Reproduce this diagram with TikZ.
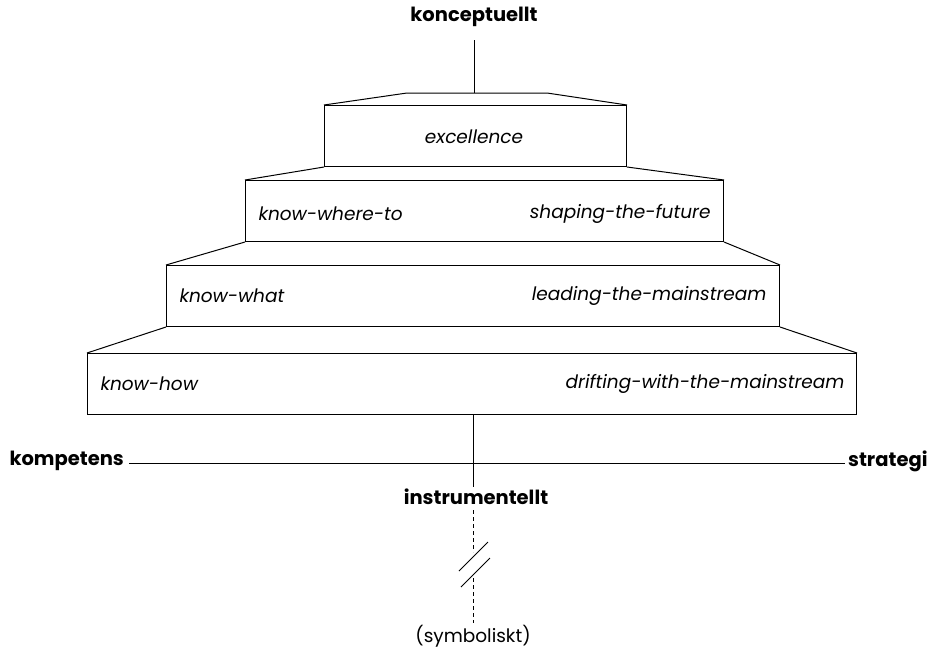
\documentclass[tikz,border=0pt]{standalone}
\usepackage{fontspec}
\setmainfont{Poppins}
\begin{document}
\begin{tikzpicture}[x=1pt,y=-1pt,
  line width=1pt,
  box/.style={draw, line width=1pt, anchor=north west, inner sep=0pt},
  lbl/.style={font=\fontsize{18.5}{20}\selectfont\itshape, inner sep=0pt},
  head/.style={font=\fontsize{19.5}{21}\selectfont\bfseries, inner sep=0pt},
  sym/.style={font=\fontsize{18.5}{20}\selectfont, inner sep=1pt}]
\useasboundingbox (0,0) rectangle (930,651);
% boxes
\node[box, minimum width=302pt, minimum height=61pt] (b1) at (324,105) {};
\node[box, minimum width=478pt, minimum height=61pt] (b2) at (245,180) {};
\node[box, minimum width=613pt, minimum height=61pt] (b3) at (166,265) {};
\node[box, minimum width=769pt, minimum height=61pt] (b4) at (87,353) {};
% trapezoid tops
\coordinate (t1l) at (407,93);
\coordinate (t1r) at (547,93);
\coordinate (t1m) at (474,93);
\draw (b1.north west) -- (t1l) -- (t1r) -- (b1.north east);
\draw (b2.north west) -- (b1.south west);
\draw (b2.north east) -- (b1.south east);
\draw (b3.north west) -- (b2.south west);
\draw (b3.north east) -- (b2.south east);
\draw (b4.north west) -- (b3.south west);
\draw (b4.north east) -- (b3.south east);
% labels in boxes
\node[lbl] (exc) at (474,137) {excellence};
\node[lbl, anchor=west] (kwt) at (258,214) {know-where-to};
\node[lbl, anchor=east] (stf) at (711,214) {shaping-the-future};
\node[lbl, anchor=west] (kwh) at (179,296) {know-what};
\node[lbl, anchor=east] (ltm) at (767,296) {leading-the-mainstream};
\node[lbl, anchor=west] (kh) at (100,384) {know-how};
\node[lbl, anchor=east] (dwm) at (845,384) {drifting-with-the-mainstream};
% axis labels
\node[head] (konc) at (474,17) {konceptuellt};
\node[head, anchor=west] (komp) at (9,461) {kompetens};
\node[head, anchor=east] (strat) at (928,461) {strategi};
\node[head] (instr) at (476,497) {instrumentellt};
\node[sym] (symb) at (473,636) {(symboliskt)};
% connectors
\draw (474,40) -- (t1m);
\draw (473,414) -- (473,487);
\coordinate (hl) at ([xshift=5pt]komp.east |- 0,463);
\coordinate (hr) at ([xshift=-3pt]strat.west |- 0,463);
\draw (hl) -- (hr);
\coordinate (brk1) at (473,552);
\coordinate (brk2) at (473,578);
\draw[dashed, dash pattern=on 4pt off 3pt] (473,510) -- (brk1);
\draw[dashed, dash pattern=on 4pt off 3pt] (brk2) -- (symb.north);
\draw[line width=0.9pt] (459,571) -- (488,542);
\draw[line width=0.9pt] (461,587) -- (490,558);
\end{tikzpicture}
\end{document}
